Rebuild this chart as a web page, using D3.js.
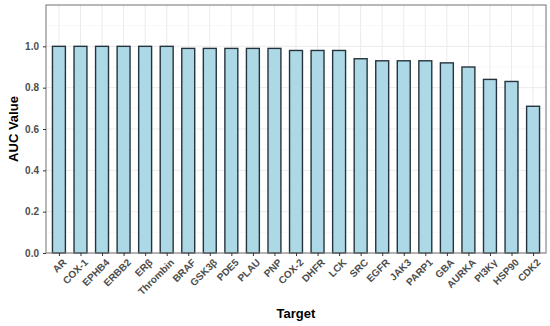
<!DOCTYPE html>
<html><head><meta charset="utf-8">
<script src="https://cdn.jsdelivr.net/npm/d3@7"></script>
<style>body{margin:0;background:#fff;}svg{display:block;font-family:"Liberation Sans",Arial,sans-serif;}</style>
</head><body>
<svg id="c" width="550" height="326"></svg>
<script>
const categories = ["AR","COX-1","EPHB4","ERBB2","ERβ","Thrombin","BRAF","GSK3β","PDE5","PLAU","PNP","COX-2","DHFR","LCK","SRC","EGFR","JAK3","PARP1","GBA","AURKA","PI3Kγ","HSP90","CDK2"];
const values = [1.0,1.0,1.0,1.0,1.0,1.0,0.99,0.99,0.99,0.99,0.99,0.98,0.98,0.98,0.94,0.93,0.93,0.93,0.92,0.90,0.84,0.83,0.71];
const yTicks = [0.0,0.2,0.4,0.6,0.8,1.0];
const yMinor = [0.1,0.3,0.5,0.7,0.9,1.1];

const svg = d3.select("#c");
const L=46, R=546, T=5, B=253;
const n = categories.length;
const unit = (R-L)/(n-1+1.2);
const x = d3.scalePoint().domain(categories).range([L+0.6*unit, R-0.6*unit]);
const y = d3.scaleLinear().domain([0,1.2]).range([B,T]);
const bw = unit*0.6;

// grid
svg.append("g").selectAll("line").data(yMinor).join("line")
  .attr("x1",L).attr("x2",R).attr("y1",d=>y(d)).attr("y2",d=>y(d))
  .attr("stroke","#f2f2f2").attr("stroke-width",0.6);
svg.append("g").selectAll("line").data(yTicks).join("line")
  .attr("x1",L).attr("x2",R).attr("y1",d=>y(d)).attr("y2",d=>y(d))
  .attr("stroke","#ebebeb").attr("stroke-width",1);
svg.append("g").selectAll("line").data(categories).join("line")
  .attr("x1",d=>x(d)).attr("x2",d=>x(d)).attr("y1",T).attr("y2",B)
  .attr("stroke","#ebebeb").attr("stroke-width",1);

// bars
svg.append("g").selectAll("rect").data(categories).join("rect")
  .attr("x",d=>x(d)-bw/2).attr("width",bw)
  .attr("y",(d,i)=>y(values[i])).attr("height",(d,i)=>B-y(values[i]))
  .attr("fill","#ADD8E6").attr("stroke","#25343c").attr("stroke-width",1.4);

// panel border
svg.append("rect").attr("x",L).attr("y",T).attr("width",R-L).attr("height",B-T)
  .attr("fill","none").attr("stroke","#7f7f7f").attr("stroke-width",1.1);

// axes
const yAxis = svg.append("g").attr("transform",`translate(${L},0)`)
  .call(d3.axisLeft(y).tickValues(yTicks).tickFormat(d3.format(".1f")).tickSize(3).tickPadding(4));
yAxis.select(".domain").remove();
yAxis.selectAll("line").attr("stroke","#333");
yAxis.selectAll("text").attr("font-size",10).attr("font-weight","bold").attr("fill","#4d4d4d");

const xAxis = svg.append("g").attr("transform",`translate(0,${B})`)
  .call(d3.axisBottom(x).tickSize(3).tickPadding(2));
xAxis.select(".domain").remove();
xAxis.selectAll("line").attr("stroke","#333");
xAxis.selectAll("text").attr("font-size",10).attr("font-weight","bold").attr("fill","#4d4d4d")
  .attr("text-anchor","end").attr("x",0).attr("y",0).attr("dy","0.72em")
  .attr("transform","translate(2.5,5) rotate(-45)");

// titles
svg.append("text").attr("x",(L+R)/2).attr("y",318).attr("text-anchor","middle")
  .attr("font-size",13).attr("font-weight","bold").attr("fill","#000").text("Target");
svg.append("text").attr("transform",`translate(18,${(T+B)/2}) rotate(-90)`).attr("text-anchor","middle")
  .attr("font-size",13).attr("font-weight","bold").attr("fill","#000").text("AUC Value");
</script>
</body></html>
